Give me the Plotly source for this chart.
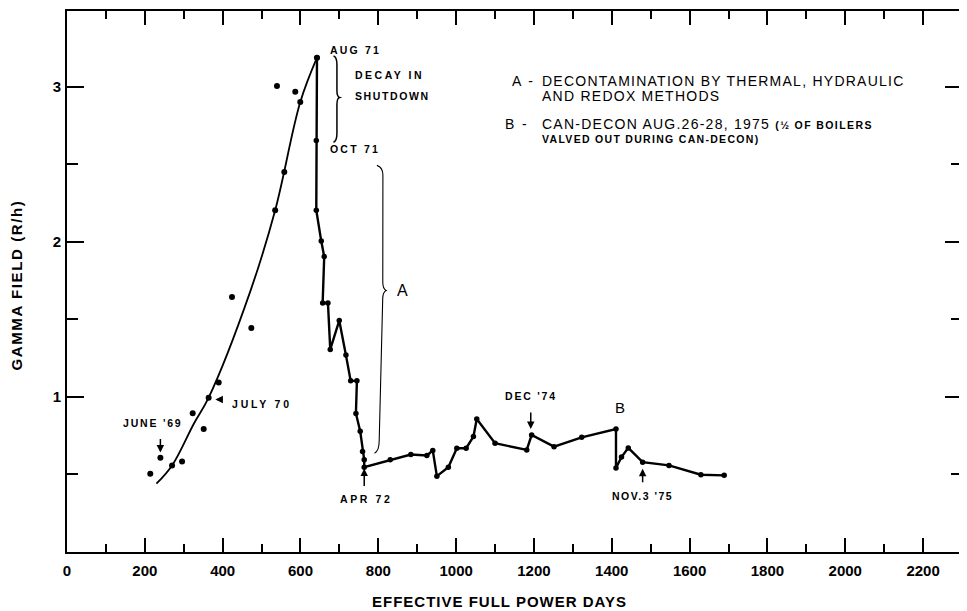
import plotly.graph_objects as go

# ---- data ----
# fitted growth curve (smooth line)
fit_x = [229.8, 270, 325.6, 364, 471, 535, 599.5, 642.4]
fit_y = [0.44, 0.558, 0.825, 0.995, 1.68, 2.203, 2.90, 3.186]

# individual measurements during growth (unconnected dots)
pts_x = [214, 240, 270, 295.7, 323, 351.3, 364, 389.8, 424, 473.7, 535, 558.4, 539.6, 586.6, 599.5, 642.4]
pts_y = [0.504, 0.607, 0.558, 0.583, 0.895, 0.793, 0.995, 1.092, 1.643, 1.444, 2.203, 2.449, 3.004, 2.966, 2.90, 3.186]

# connected series after Aug 71
dec_x = [642.4, 640.6, 640.6, 653.4, 661, 657, 670.6, 676.5, 699.6, 716.8, 729, 745, 742.5, 753.5,
         759.5, 763.8, 763.8, 830.6, 883.7, 924.8, 940, 950.5, 980, 1001.8, 1025.7, 1044.5, 1053,
         1100, 1181.5, 1194, 1251.6, 1322.7, 1410.8, 1410.8, 1425, 1442.4, 1479.3, 1547, 1629, 1688.8]
dec_y = [3.186, 2.652, 2.203, 2.004, 1.904, 1.605, 1.605, 1.306, 1.492, 1.269, 1.103, 1.103, 0.893, 0.778,
         0.647, 0.594, 0.547, 0.594, 0.628, 0.622, 0.654, 0.489, 0.547, 0.669, 0.669, 0.744, 0.857,
         0.701, 0.658, 0.754, 0.679, 0.739, 0.793, 0.541, 0.612, 0.671, 0.579, 0.558, 0.498, 0.494]

x_ticks = [0, 200, 400, 600, 800, 1000, 1200, 1400, 1600, 1800, 2000, 2200]
x_ticktext = ["0", "200", "400", "600", "800", "1000", "1200", "1400", "1600", "1800", "2000", "2200"]
y_ticks = [1, 2, 3]
y_ticktext = ["1", "2", "3"]

FONT = "Liberation Sans, Arial, sans-serif"


def ls(t, sp):
    return f"<span style='letter-spacing:{sp}px'>{t}</span>"


fig = go.Figure()
fig.add_trace(go.Scatter(x=fit_x, y=fit_y, mode="lines",
                         line=dict(color="black", width=1.8, shape="spline", smoothing=1.0),
                         hoverinfo="skip", showlegend=False))
fig.add_trace(go.Scatter(x=pts_x, y=pts_y, mode="markers", marker=dict(color="black", size=6),
                         showlegend=False))
fig.add_trace(go.Scatter(x=dec_x, y=dec_y, mode="lines+markers", line=dict(color="black", width=2.4),
                         marker=dict(color="black", size=5.5), showlegend=False))

tickfont = dict(family=FONT, size=15, color="black", weight="bold")

fig.update_layout(
    width=959, height=603,
    margin=dict(l=59, r=5, t=1, b=59),
    paper_bgcolor="white", plot_bgcolor="white",
    showlegend=False,
    xaxis=dict(range=[0, 2300], tickvals=x_ticks, ticktext=x_ticktext, ticks="inside", ticklen=14, tickwidth=2,
               tickcolor="black", showline=True, linewidth=2, linecolor="black", mirror="allticks",
               showgrid=False, zeroline=False, tickfont=tickfont, ticklabelstandoff=4,
               minor=dict(dtick=100, tick0=0, ticks="inside", ticklen=8, tickwidth=2, tickcolor="black", showgrid=False)),
    yaxis=dict(range=[0, 3.487], tickvals=y_ticks, ticktext=y_ticktext, ticks="inside", ticklen=17, tickwidth=2,
               tickcolor="black", showline=True, linewidth=2, linecolor="black", mirror="allticks",
               showgrid=False, zeroline=False, tickfont=tickfont, ticklabelstandoff=1,
               minor=dict(dtick=0.5, tick0=0, ticks="inside", ticklen=11, tickwidth=2, tickcolor="black", showgrid=False)),
)

# braces
fig.add_shape(type="path", xref="x", yref="y",
              path="M 684.9,3.197 Q 693.7,3.19 693.7,3.14 L 693.7,2.975 Q 693.7,2.935 700.5,2.93 "
                   "Q 693.7,2.925 693.7,2.885 L 693.7,2.70 Q 693.7,2.648 684.9,2.641",
              line=dict(color="black", width=1.5))
fig.add_shape(type="path", xref="x", yref="y",
              path="M 796.4,2.492 Q 811.8,2.48 811.8,2.43 L 811.5,1.74 Q 811.5,1.695 820.3,1.686 "
                   "Q 811.3,1.675 811.3,1.63 L 802.3,0.72 Q 802.3,0.65 790.2,0.637",
              line=dict(color="black", width=1.1))

small = dict(family=FONT, size=10.5, color="black", weight="bold")
mid = dict(family=FONT, size=14, color="black")


def note(x, y, text, font, xanchor="left"):
    fig.add_annotation(x=x, y=y, xref="x", yref="y", text=text, showarrow=False, font=font,
                       xanchor=xanchor, yanchor="middle")


note(671, 3.237, ls("AUG 71", 2.2), small)
note(735.6, 3.077, ls("DECAY IN", 2.5), small)
note(735.6, 2.936, ls("SHUTDOWN", 1.6), small)
note(671, 2.596, ls("OCT 71", 2.2), small)
note(843.4, 1.686, "A", dict(family=FONT, size=16, color="black"))

note(1138.6, 3.038, "A  -", mid)
note(1215.7, 3.038, ls("DECONTAMINATION BY THERMAL, HYDRAULIC", 1.25), mid)
note(1215.7, 2.942, ls("AND REDOX METHODS", 1.25), mid)
note(1120.7, 2.756, "B  -", mid)
note(1215.7, 2.756, ls("CAN-DECON AUG.26-28, 1975 ", 1.25)
     + "<span style='font-size:10.5px;font-weight:bold;letter-spacing:1.4px'>(½ OF BOILERS</span>", mid)
note(1215.7, 2.66, ls("VALVED OUT DURING CAN-DECON)", 1.3), small)

note(220.8, 0.829, ls("JUNE '69", 1.8), small, xanchor="center")
note(419.8, 0.957, ls("JULY 70", 2.8), small)
note(697, 0.34, ls("APR 72", 2.6), small)
note(1120.6, 1.006, ls("DEC '74", 1.8), small)
note(1421, 0.931, "B", dict(family=FONT, size=15, color="black"), xanchor="center")
note(1395, 0.359, ls("NOV.3 '75", 1.5), small)


def arrow(x, y, ax, ay):
    fig.add_annotation(x=x, y=y, xref="x", yref="y", text="", showarrow=True, ax=ax, ay=ay,
                       arrowhead=2, arrowsize=1, arrowwidth=1.5, arrowcolor="black", standoff=0)


arrow(240, 0.641, 0, -15)
arrow(381.3, 0.983, 9, 0)
arrow(763.8, 0.538, 0, 19)
arrow(1191.8, 0.793, 0, -18)
arrow(1479.3, 0.536, 0, 15)

# axis titles
fig.add_annotation(x=0.4832, y=-0.0915, xref="paper", yref="paper", showarrow=False,
                   text=ls("EFFECTIVE FULL POWER DAYS", 1.0),
                   font=dict(family=FONT, size=15, color="black", weight="bold"), xanchor="center", yanchor="middle")
fig.add_annotation(x=-0.0559, y=0.4945, xref="paper", yref="paper", showarrow=False, textangle=-90,
                   text=ls("GAMMA FIELD (R/h)", 1.6),
                   font=dict(family=FONT, size=15, color="black", weight="bold"), xanchor="center", yanchor="middle")

fig.write_html("out.html")
